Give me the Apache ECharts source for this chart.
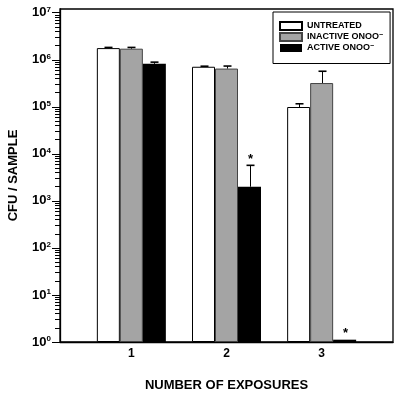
<!DOCTYPE html>
<html><head><meta charset="utf-8">
<script src="https://cdn.jsdelivr.net/npm/echarts@6/dist/echarts.min.js"></script>
<style>html,body{margin:0;padding:0;background:#fff}#c{width:400px;height:396px}</style>
</head><body><div id="c"></div>
<script>
// ---- data ----
const exposures = [1, 2, 3];
const xTickLabels = ['1', '2', '3'];
const seriesNames = ['UNTREATED', 'INACTIVE ONOO', 'ACTIVE ONOO'];
const seriesNameSuperscripts = ['', '−', '−'];
const untreated = [1.77e6, 7.1e5, 9.9e4];
const untreatedErrTop = [1.83e6, 7.3e5, 1.16e5];
const inactive = [1.72e6, 6.5e5, 3.2e5];
const inactiveErrTop = [1.83e6, 7.35e5, 5.7e5];
const active = [8.2e5, 2.0e3, 1.12];
const activeErrTop = [8.9e5, 5.7e3, null];
const activeSignificant = [false, true, true];
const yMajorExponents = [0, 1, 2, 3, 4, 5, 6, 7];
const yMinorMultipliers = [2, 3, 4, 5, 6, 7, 8, 9];

// ---- style ----
const FONT = 'Liberation Sans, Arial, sans-serif';
const BAR_W = 23;
const Y_MIN = 1, Y_MAX = 1.2e7;

const yMajorValues = yMajorExponents.map(e => Math.pow(10, e));
const yMinorValues = [];
yMajorExponents.slice(0, -1).forEach(e => yMinorMultipliers.forEach(m => yMinorValues.push(m * Math.pow(10, e))));

function barSeries(i, values, style) {
  return {
    type: 'bar', name: seriesNames[i],
    data: exposures.map((x, k) => [x, values[k]]),
    barWidth: BAR_W, barGap: '0%',
    itemStyle: style, z: 2
  };
}
function errSeries(i, values, tops, sig, slot) {
  return {
    type: 'custom', name: seriesNames[i] + ' err', silent: true, z: 5,
    data: exposures.map((x, k) => [x, values[k], tops[k] == null ? values[k] : tops[k], tops[k] == null ? 0 : 1, sig && sig[k] ? 1 : 0]),
    renderItem(params, api) {
      const x = api.value(0);
      const base = api.coord([x, api.value(1)]);
      const top = api.coord([x, api.value(2)]);
      const cx = Math.round(base[0] + slot * BAR_W) + 0.5;
      const ch = [];
      if (api.value(3)) {
        ch.push({ type: 'line', shape: { x1: cx, y1: base[1], x2: cx, y2: top[1] }, style: { stroke: '#000', lineWidth: 1 } });
        ch.push({ type: 'line', shape: { x1: cx - 4, y1: top[1], x2: cx + 4, y2: top[1] }, style: { stroke: '#000', lineWidth: 1.6 } });
      }
      if (api.value(4)) {
        ch.push({ type: 'text', x: cx, y: top[1] - 6, style: { text: '*', fill: '#000', font: 'bold 13px ' + FONT, align: 'center', verticalAlign: 'middle' } });
      }
      return { type: 'group', children: ch };
    }
  };
}

const chart = echarts.init(document.getElementById('c'), null, { renderer: 'canvas' });
chart.setOption({
  animation: false,
  backgroundColor: '#fff',
  textStyle: { fontFamily: FONT },
  grid: { left: 60, right: 7, top: 9, bottom: 54, containLabel: false, outerBoundsMode: 'none', show: true, borderColor: '#000', borderWidth: 1.3, backgroundColor: 'transparent' },
  legend: {
    orient: 'vertical', left: 273, top: 12,
    data: seriesNames,
    itemWidth: 22, itemHeight: 8, itemGap: 1,
    padding: [9, 7, 11, 6],
    borderColor: '#000', borderWidth: 1,
    icon: 'rect',
    formatter: name => '{t|' + name + '}{s|' + seriesNameSuperscripts[seriesNames.indexOf(name)] + '}',
    textStyle: {
      rich: {
        t: { fontSize: 9, fontWeight: 'bold', fontFamily: FONT, color: '#000', lineHeight: 10 },
        s: { fontSize: 7, fontWeight: 'bold', fontFamily: FONT, color: '#000', verticalAlign: 'top', lineHeight: 10 }
      }
    }
  },
  xAxis: {
    type: 'value', min: 0.25, max: 3.75,
    name: 'NUMBER OF EXPOSURES', nameLocation: 'middle', nameGap: 37,
    nameTextStyle: { fontSize: 13, fontWeight: 'bold', color: '#000', fontFamily: FONT },
    axisLine: { show: true, lineStyle: { color: '#000', width: 1.3 } },
    axisTick: { show: false },
    splitLine: { show: false },
    axisLabel: {
      customValues: exposures,
      formatter: v => xTickLabels[exposures.indexOf(v)],
      fontSize: 12, fontWeight: 'bold', color: '#000', margin: 6, fontFamily: FONT
    }
  },
  yAxis: [{
    type: 'log', logBase: 10, min: Y_MIN, max: Y_MAX,
    name: 'CFU / SAMPLE', nameLocation: 'middle', nameGap: 40,
    nameTextStyle: { fontSize: 13, fontWeight: 'bold', color: '#000', fontFamily: FONT },
    axisLine: { show: true, lineStyle: { color: '#000', width: 1.3 } },
    axisTick: { show: true, length: 8, customValues: yMajorValues, lineStyle: { color: '#000', width: 1 } },
    splitLine: { show: false },
    axisLabel: {
      customValues: yMajorValues, margin: 9,
      formatter: v => '{b|10}{s|' + Math.round(Math.log10(v)) + '}',
      rich: {
        b: { fontSize: 13, fontWeight: 'bold', color: '#000', fontFamily: FONT, lineHeight: 14 },
        s: { fontSize: 8, fontWeight: 'bold', color: '#000', fontFamily: FONT, verticalAlign: 'top', lineHeight: 14 }
      }
    }
  }, {
    type: 'log', logBase: 10, min: Y_MIN, max: Y_MAX, position: 'left',
    axisLine: { show: false },
    axisTick: { show: true, length: 5, customValues: yMinorValues, lineStyle: { color: '#000', width: 1 } },
    axisLabel: { show: false },
    splitLine: { show: false }
  }],
  series: [
    barSeries(0, untreated, { color: '#fff', borderColor: '#000', borderWidth: 1 }),
    barSeries(1, inactive, { color: '#a4a4a4', borderColor: '#444', borderWidth: 1 }),
    barSeries(2, active, { color: '#000', borderColor: '#000', borderWidth: 0 }),
    errSeries(0, untreated, untreatedErrTop, null, -1),
    errSeries(1, inactive, inactiveErrTop, null, 0),
    errSeries(2, active, activeErrTop, activeSignificant, 1)
  ]
});
</script></body></html>
